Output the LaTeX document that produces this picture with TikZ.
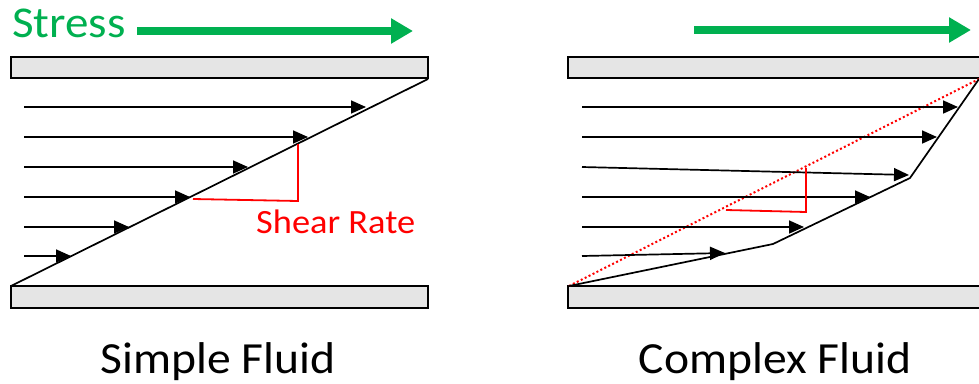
\documentclass[tikz,border=0pt]{standalone}
\usepackage{fontspec}
\setmainfont{Carlito}[FakeStretch=1.07]
\usetikzlibrary{arrows.meta}

\begin{document}
\begin{tikzpicture}[x=1pt, y=-1pt,
    plate/.style={draw=black, line width=1.8pt, fill=plate-grey},
    flow/.style={line width=1.7pt, -{Triangle[length=15pt,width=13pt]}},
    push/.style={line width=8pt, green-tone, -{Triangle[length=22pt,width=24pt]}},
    rate/.style={line width=1.8pt, red-tone},
    caption/.style={anchor=base, inner sep=0, font=\fontsize{44.5}{50}\selectfont}]
    % Definitions
    \definecolor{plate-grey}{RGB}{229, 229, 229}
    \definecolor{green-tone}{RGB}{0, 176, 80}
    \definecolor{red-tone}{RGB}{255, 0, 0}

    \newcommand{\drawplates}[1]{
        \begin{scope}[shift={(#1,0)}]
            \draw[plate] (0,57) rectangle (417,78);
            \draw[plate] (0,286) rectangle (417,308);
        \end{scope}
    }

    \useasboundingbox (0,0) rectangle (979,383);

    % Left panel: simple fluid
    \drawplates{11}
    \node[anchor=base west, inner sep=0, text=green-tone,
          font=\fontsize{44}{48}\selectfont
    ] (stress) at (12,37) {Stress};
    \coordinate (stress-end) at (413,31);
    \draw[push] (137,31) -- (stress-end);

    \coordinate (l-bot) at (11,286);
    \coordinate (l-top) at (428,79);
    \draw[line width=1.7pt] (l-bot) -- (l-top);

    \coordinate (l-a1) at (366,107);
    \coordinate (l-a2) at (308,137);
    \coordinate (l-a3) at (248,167);
    \coordinate (l-a4) at (190,197);
    \coordinate (l-a5) at (129,227);
    \coordinate (l-a6) at (71,256);
    \draw[flow] (24,107) -- (l-a1);
    \draw[flow] (24,137) -- (l-a2);
    \draw[flow] (24,167) -- (l-a3);
    \draw[flow] (24,197) -- (l-a4);
    \draw[flow] (24,227) -- (l-a5);
    \draw[flow] (24,256) -- (l-a6);

    \draw[rate] (193,199) -- (298,201) -- (298,144);
    \node[anchor=base west, inner sep=0, text=red-tone,
          font=\fontsize{34}{38}\selectfont
    ] (shear) at (256,233) {Shear Rate};

    \node[caption] (simple) at (218,373) {Simple Fluid};

    % Right panel: complex fluid
    \drawplates{568}
    \coordinate (push-start) at (694,30);
    \coordinate (push-end) at (971,30);
    \draw[push] (push-start) -- (push-end);

    \coordinate (r-bot) at (569,286);
    \coordinate (r-k1) at (773,244);
    \coordinate (r-k2) at (910,178);
    \coordinate (r-top) at (979,79);
    \draw[red-tone, line width=2pt, dash pattern=on 2pt off 2.4pt]
        (r-bot) -- (r-top);
    \draw[line width=1.7pt, line join=round]
        (r-bot) -- (r-k1) -- (r-k2) -- (r-top);

    \coordinate (r-a1) at (958,107);
    \coordinate (r-a2) at (937,137);
    \coordinate (r-a3) at (909,175);
    \coordinate (r-a4) at (870,197);
    \coordinate (r-a5) at (804,227);
    \coordinate (r-a6) at (725,253);
    \draw[flow] (582,107) -- (r-a1);
    \draw[flow] (582,137) -- (r-a2);
    \draw[flow] (582,167) -- (r-a3);
    \draw[flow] (582,197) -- (r-a4);
    \draw[flow] (582,227) -- (r-a5);
    \draw[flow] (582,256) -- (r-a6);

    \draw[rate] (726,210) -- (806,212) -- (806,168);

    \node[caption] (complex) at (775,373) {Complex Fluid};
\end{tikzpicture}
\end{document}
